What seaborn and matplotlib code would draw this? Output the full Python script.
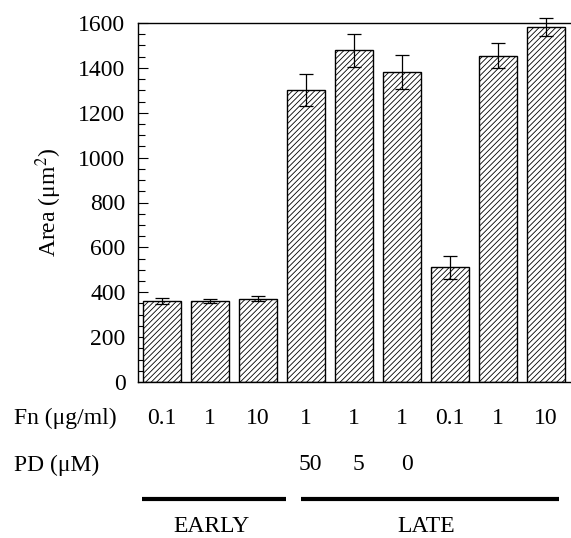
import matplotlib
matplotlib.use("Agg")
import matplotlib.pyplot as plt
import matplotlib.transforms as mtransforms
from matplotlib.ticker import MultipleLocator
import seaborn as sns
import pandas as pd

conditions = ["E1", "E2", "E3", "L1", "L2", "L3", "L4", "L5", "L6"]
area = [362, 360, 372, 1301, 1478, 1382, 511, 1455, 1582]
err = [14, 8, 11, 72, 74, 77, 50, 57, 40]
fn_labels = ["0.1", "1", "10", "1", "1", "1", "0.1", "1", "10"]
pd_labels = ["", "", "", "50", "5", "0", "", "", ""]
groups = ["EARLY", "LATE"]

sns.set_style("ticks")
plt.rcParams["font.family"] = ["Liberation Serif", "DejaVu Serif"]
plt.rcParams["mathtext.fontset"] = "stix"
plt.rcParams["hatch.linewidth"] = 0.6
plt.rcParams["text.color"] = "black"
plt.rcParams["axes.labelcolor"] = "black"
plt.rcParams["ytick.color"] = "black"

FS = 17

df = pd.DataFrame({"cond": conditions, "area": area})

fig = plt.figure(figsize=(5.71, 5.38), dpi=100)
ax = fig.add_axes([138 / 571, 1 - 382 / 538, (570 - 138) / 571, (382 - 23) / 538])

sns.barplot(data=df, x="cond", y="area", order=conditions, color="white",
            edgecolor="black", linewidth=1.0, width=0.8, errorbar=None, ax=ax,
            saturation=1)
for p in ax.patches:
    p.set_hatch("//////")
    p.set_facecolor("white")

xs = list(range(len(conditions)))
ax.errorbar(xs, area, yerr=err, fmt="none", ecolor="black", elinewidth=0.9,
            capsize=5, capthick=0.9, clip_on=False, zorder=5)

ax.set_xlim(-0.5, 8.5)
ax.set_ylim(0, 1600)
ax.yaxis.set_major_locator(MultipleLocator(200))
ax.yaxis.set_minor_locator(MultipleLocator(50))
ax.tick_params(axis="y", which="major", direction="in", length=7, width=0.8,
               labelsize=FS, pad=9)
ax.tick_params(axis="y", which="minor", direction="in", length=5, width=0.8)
ax.tick_params(axis="x", which="both", length=0, labelbottom=False)
ax.set_xlabel("")
ax.set_ylabel("Area (μm$^2$)", fontsize=FS, labelpad=10)
for s in ["left", "top", "bottom"]:
    ax.spines[s].set_linewidth(1.0)
    ax.spines[s].set_color("black")
ax.spines["right"].set_visible(False)

trans = mtransforms.blended_transform_factory(ax.transData, fig.transFigure)
fy_fn = 1 - 418 / 538
fy_pd = 1 - 465 / 538
fy_line = 1 - 499 / 538
fy_grp = 1 - 526 / 538

fig.text(14 / 571, fy_fn, "Fn (μg/ml)", fontsize=FS, va="center", ha="left")
fig.text(14 / 571, fy_pd, "PD (μM)", fontsize=FS, va="center", ha="left")
for x, lab in zip(xs, fn_labels):
    ax.text(x, fy_fn, lab, transform=trans, fontsize=FS, ha="center", va="center")
for x, lab in zip(xs, pd_labels):
    if lab:
        ax.text(x + 0.1, fy_pd, lab, transform=trans, fontsize=FS, ha="center", va="center")

ax.plot([-0.42, 2.58], [fy_line, fy_line], transform=trans, color="black",
        lw=3, clip_on=False, solid_capstyle="butt")
ax.plot([2.9, 8.27], [fy_line, fy_line], transform=trans, color="black",
        lw=3, clip_on=False, solid_capstyle="butt")
ax.text(1.04, fy_grp, groups[0], transform=trans, fontsize=FS, ha="center", va="center")
ax.text(5.5, fy_grp, groups[1], transform=trans, fontsize=FS, ha="center", va="center")

fig.savefig("out.png", dpi=100)
